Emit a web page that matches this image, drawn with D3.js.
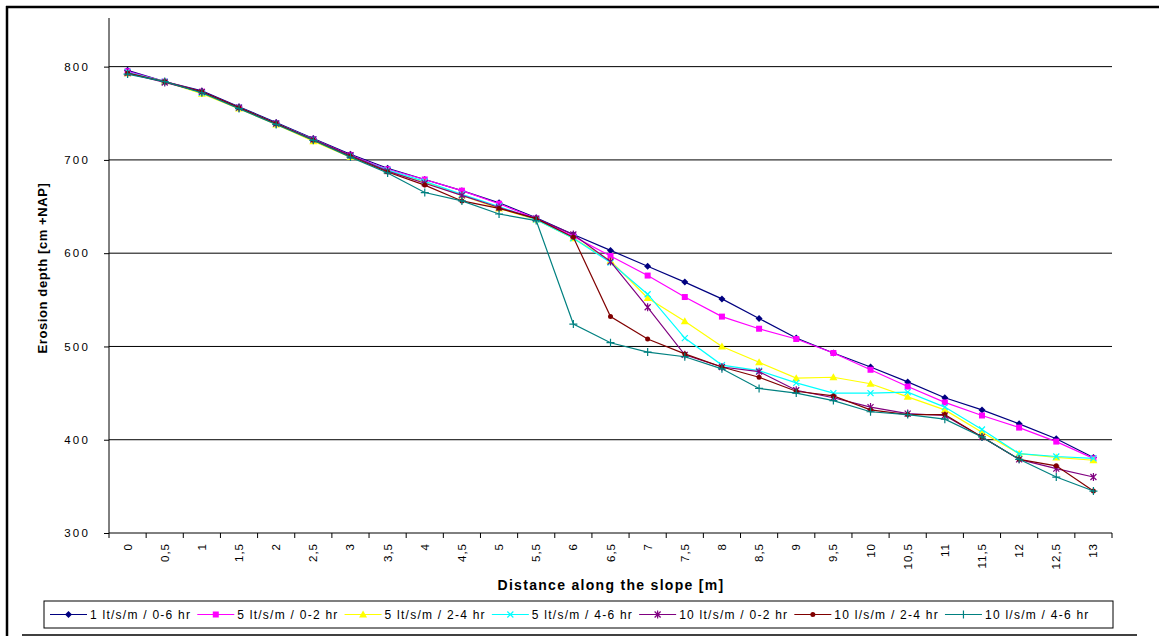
<!DOCTYPE html>
<head>
  <meta charset="utf-8">
  <script src="https://d3js.org/d3.v7.min.js"></script>
  <style>
    body { margin: 0; background: #fff; }
    svg { display: block; font-family: "Liberation Sans", Arial, sans-serif; }
    .tick text { font-size: 11px; fill: #000; }
  </style>
</head>
<body>
<script>

var distances = ["0","0,5","1","1,5","2","2,5","3","3,5","4","4,5","5","5,5","6","6,5","7","7,5",
                 "8","8,5","9","9,5","10","10,5","11","11,5","12","12,5","13"];

var yTicks = [300, 400, 500, 600, 700, 800];

var seriesNames = ["1 lt/s/m / 0-6 hr", "5 lt/s/m / 0-2 hr", "5 lt/s/m / 2-4 hr", "5 lt/s/m / 4-6 hr",
                   "10 lt/s/m / 0-2 hr", "10 l/s/m / 2-4 hr", "10 l/s/m / 4-6 hr"];

var q1_0_6  = [796,784,774,757,740,723,706,691,679,667,654,638,620,603,586,569,551,530,509,493,478,462,445,432,417,401,381];
var q5_0_2  = [795,784,773,756,739,722,705,690,679,667,653,637,618,597,576,553,532,519,508,493,475,457,440,426,413,398,380];
var q5_2_4  = [793,784,771,755,738,720,703,688,676,662,648,636,616,592,552,527,500,483,466,467,460,446,432,408,385,381,378];
var q5_4_6  = [794,784,772,756,739,722,704,689,677,663,650,636,616,590,556,509,480,474,461,450,450,451,435,411,385,382,380];
var q10_0_2 = [793,783,773,756,739,722,705,688,675,662,649,637,620,591,542,491,478,473,453,445,435,428,426,403,379,369,360];
var q10_2_4 = [793,784,773,756,739,721,704,687,673,656,648,637,617,532,508,492,478,467,452,447,432,427,427,403,379,372,345];
var q10_4_6 = [792,784,772,755,738,721,703,686,665,656,642,635,524,504,494,489,476,455,450,442,430,427,422,403,379,360,345];

var allSeries = [q1_0_6, q5_0_2, q5_2_4, q5_4_6, q10_0_2, q10_2_4, q10_4_6];
var colors  = ["#000080", "#ff00ff", "#ffff00", "#00ffff", "#800080", "#800000", "#008080"];
var markers = ["diamond", "square", "triangle", "x", "star", "circle", "plus"];

var W = 1159, H = 636;
var margin = {top: 20, right: 47, bottom: 103, left: 109},
    width = W - margin.left - margin.right,
    height = H - margin.top - margin.bottom;

var svg = d3.select("body").append("svg")
    .attr("width", W)
    .attr("height", H);

// outer frame
svg.append("line").attr("x1", 6).attr("x2", W).attr("y1", 7).attr("y2", 7)
    .attr("stroke", "#000").attr("stroke-width", 2.5);
svg.append("line").attr("x1", 7).attr("x2", 7).attr("y1", 6).attr("y2", H)
    .attr("stroke", "#000").attr("stroke-width", 2.5);
svg.append("line").attr("x1", 22).attr("x2", 1137).attr("y1", 635).attr("y2", 635)
    .attr("stroke", "#000").attr("stroke-width", 1.5);

var g = svg.append("g")
    .attr("transform", "translate(" + margin.left + "," + margin.top + ")");

var x = d3.scaleBand()
    .domain(distances)
    .range([0, width]);

var y = d3.scaleLinear()
    .domain([300, 850])
    .range([height, 0]);

// gridlines
g.append("g")
  .selectAll("line")
  .data(yTicks.slice(1))
  .enter().append("line")
    .attr("x1", 0).attr("x2", width)
    .attr("y1", function(d) { return y(d); })
    .attr("y2", function(d) { return y(d); })
    .attr("stroke", "#000").attr("stroke-width", 1);

// y axis
var yAxis = g.append("g")
    .call(d3.axisLeft(y).tickValues(yTicks).tickSize(5).tickPadding(14));
yAxis.select(".domain").attr("stroke", "#000").attr("d", "M0," + height + "V-2");
yAxis.selectAll(".tick text").style("font-size", "11.5px").style("letter-spacing", "2.2px");

// x axis: ticks between categories
var xAxis = g.append("g")
    .attr("transform", "translate(0," + height + ")");
xAxis.append("line").attr("x1", 0).attr("x2", width).attr("stroke", "#000");
xAxis.selectAll(".xt")
  .data(distances.concat(["end"]))
  .enter().append("line")
    .attr("class", "xt")
    .attr("x1", function(d, i) { return i * x.bandwidth(); })
    .attr("x2", function(d, i) { return i * x.bandwidth(); })
    .attr("y1", 0).attr("y2", 5)
    .attr("stroke", "#000");
xAxis.selectAll(".xl")
  .data(distances)
  .enter().append("text")
    .attr("class", "xl")
    .attr("transform", function(d) {
      return "translate(" + (x(d) + x.bandwidth() / 2 + 4) + ",10) rotate(-90)";
    })
    .style("text-anchor", "end")
    .style("font-size", "11.5px")
    .style("letter-spacing", "1px")
    .text(function(d) { return d; });

// axis titles
svg.append("text")
    .attr("transform", "translate(47,268) rotate(-90)")
    .style("text-anchor", "middle")
    .style("font-weight", "bold")
    .style("font-size", "13px")
    .style("letter-spacing", "0.6px")
    .text("Erosion depth [cm +NAP]");

svg.append("text")
    .attr("x", 611)
    .attr("y", 590)
    .style("text-anchor", "middle")
    .style("font-weight", "bold")
    .style("font-size", "14px")
    .style("letter-spacing", "1.3px")
    .text("Distance along the slope [m]");

function drawMarker(sel, type, color) {
  if (type === "diamond") {
    sel.append("path").attr("d", "M0,-3.5L3.5,0L0,3.5L-3.5,0Z").attr("fill", color);
  } else if (type === "square") {
    sel.append("rect").attr("x", -3).attr("y", -3).attr("width", 6).attr("height", 6).attr("fill", color);
  } else if (type === "triangle") {
    sel.append("path").attr("d", "M0,-4L4,3L-4,3Z").attr("fill", color);
  } else if (type === "circle") {
    sel.append("circle").attr("r", 2.5).attr("fill", color);
  } else if (type === "x") {
    sel.append("path").attr("d", "M-3,-3L3,3M3,-3L-3,3").attr("stroke", color).attr("stroke-width", 1.2);
  } else if (type === "star") {
    sel.append("path").attr("d", "M-3,-3L3,3M3,-3L-3,3M0,-4V4").attr("stroke", color).attr("stroke-width", 1.2);
  } else if (type === "plus") {
    sel.append("path").attr("d", "M-4,0H4M0,-4V4").attr("stroke", color).attr("stroke-width", 1.2);
  }
}

var line = d3.line()
    .x(function(d, i) { return x(distances[i]) + x.bandwidth() / 2; })
    .y(function(d) { return y(d); });

allSeries.forEach(function(vals, k) {
  g.append("path")
      .datum(vals)
      .attr("fill", "none")
      .attr("stroke", colors[k])
      .attr("stroke-width", 1.2)
      .attr("d", line);
  g.selectAll(".m" + k)
      .data(vals)
    .enter().append("g")
      .attr("class", "m" + k)
      .attr("transform", function(d, i) {
        return "translate(" + (x(distances[i]) + x.bandwidth() / 2) + "," + y(d) + ")";
      })
      .each(function() { drawMarker(d3.select(this), markers[k], colors[k]); });
});

// legend
var legend = svg.append("g");
legend.append("rect")
    .attr("x", 44).attr("y", 601)
    .attr("width", 1069).attr("height", 27)
    .attr("fill", "#fff").attr("stroke", "#000").attr("stroke-width", 1);

var lx = 50;
seriesNames.forEach(function(name, k) {
  var item = legend.append("g");
  item.append("line")
      .attr("x1", lx).attr("x2", lx + 37)
      .attr("y1", 614.5).attr("y2", 614.5)
      .attr("stroke", colors[k]).attr("stroke-width", 1.2);
  drawMarker(item.append("g").attr("transform", "translate(" + (lx + 18.5) + ",614.5)"), markers[k], colors[k]);
  var t = item.append("text")
      .attr("x", lx + 40)
      .attr("y", 618.5)
      .style("font-size", "12px")
      .style("letter-spacing", "1.25px")
      .text(name);
  lx = lx + 40 + t.node().getComputedTextLength() + 6;
});

</script>
</body>
